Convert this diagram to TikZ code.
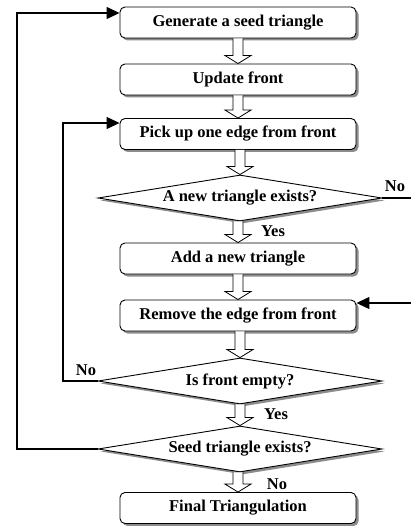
\documentclass[tikz,border=0pt]{standalone}
\usepackage{fontspec}
\setmainfont{Liberation Serif}
\usetikzlibrary{shapes.geometric,arrows.meta,shadows,calc}
\newcommand{\hollowarrow}[2]{%
  \draw[line width=0.8pt, fill=white] let \p1=(#1.south), \p2=(#2.north) in
  (\x2-5pt,\y1) -- (\x2-5pt,\y2+8pt) -- (\x2-13pt,\y2+8pt) -- (\x2,\y2) --
  (\x2+13pt,\y2+8pt) -- (\x2+5pt,\y2+8pt) -- (\x2+5pt,\y1);}
\begin{document}
\begin{tikzpicture}[x=1pt,y=-1pt,
  txt/.style={font=\bfseries\fontsize{16.5}{18}\selectfont},
  shade/.style={drop shadow={shadow xshift=2.5pt, shadow yshift=-2.5pt, fill=black!45, opacity=1}},
  proc/.style={txt, shade, draw, line width=0.9pt, rounded corners=5pt, fill=white,
    minimum width=236pt, minimum height=31pt, inner sep=0pt},
  dec/.style={txt, shade, draw, diamond, line width=0.9pt, fill=white, aspect=6.3,
    minimum width=284pt, minimum height=46pt, inner sep=0pt},
  lbl/.style={txt, inner sep=0pt},
  loop/.style={line width=1.3pt, -{Triangle[length=13pt, width=12pt]}},
  stub/.style={line width=1.3pt}
]
\useasboundingbox (0,0) rectangle (411,526);

\node[proc] (b1) at (238,22.5) {Generate a seed triangle};
\node[proc] (b2) at (238,79.5) {Update front};
\node[proc] (b3) at (238,134) {Pick up one edge from front};
\node[dec]  (d1) at (240,198) {A new triangle exists?};
\node[proc] (b4) at (238,258.5) {Add a new triangle};
\node[proc] (b5) at (238,315.5) {Remove the edge from front};
\node[dec]  (d2) at (240,381) {Is front empty?};
\node[dec]  (d3) at (240,449) {Seed triangle exists?};
\node[proc] (b6) at (238,508) {Final Triangulation};

\hollowarrow{b1}{b2}
\hollowarrow{b2}{b3}
\hollowarrow{b3}{d1}
\hollowarrow{d1}{b4}
\hollowarrow{b4}{b5}
\hollowarrow{b5}{d2}
\hollowarrow{d2}{d3}
\hollowarrow{d3}{b6}

\coordinate (o1) at (17,13);
\coordinate (o2) at (63,123);
\draw[loop] (d3.west) -| (o1) -- (b1.west |- o1);
\draw[loop] (d2.west) -| (o2) -- (b3.west |- o2);

\coordinate (r1) at (411,198);
\coordinate (r2) at (411,303);
\draw[stub] (d1.east) -- (r1);
\draw[loop] (r2) -- (b5.east |- r2);

\node[lbl] (n1) at (395,186) {No};
\node[lbl] (y1) at (273,231) {Yes};
\node[lbl] (n2) at (86,370) {No};
\node[lbl] (y2) at (276,414) {Yes};
\node[lbl] (n3) at (277,484) {No};
\end{tikzpicture}
\end{document}
